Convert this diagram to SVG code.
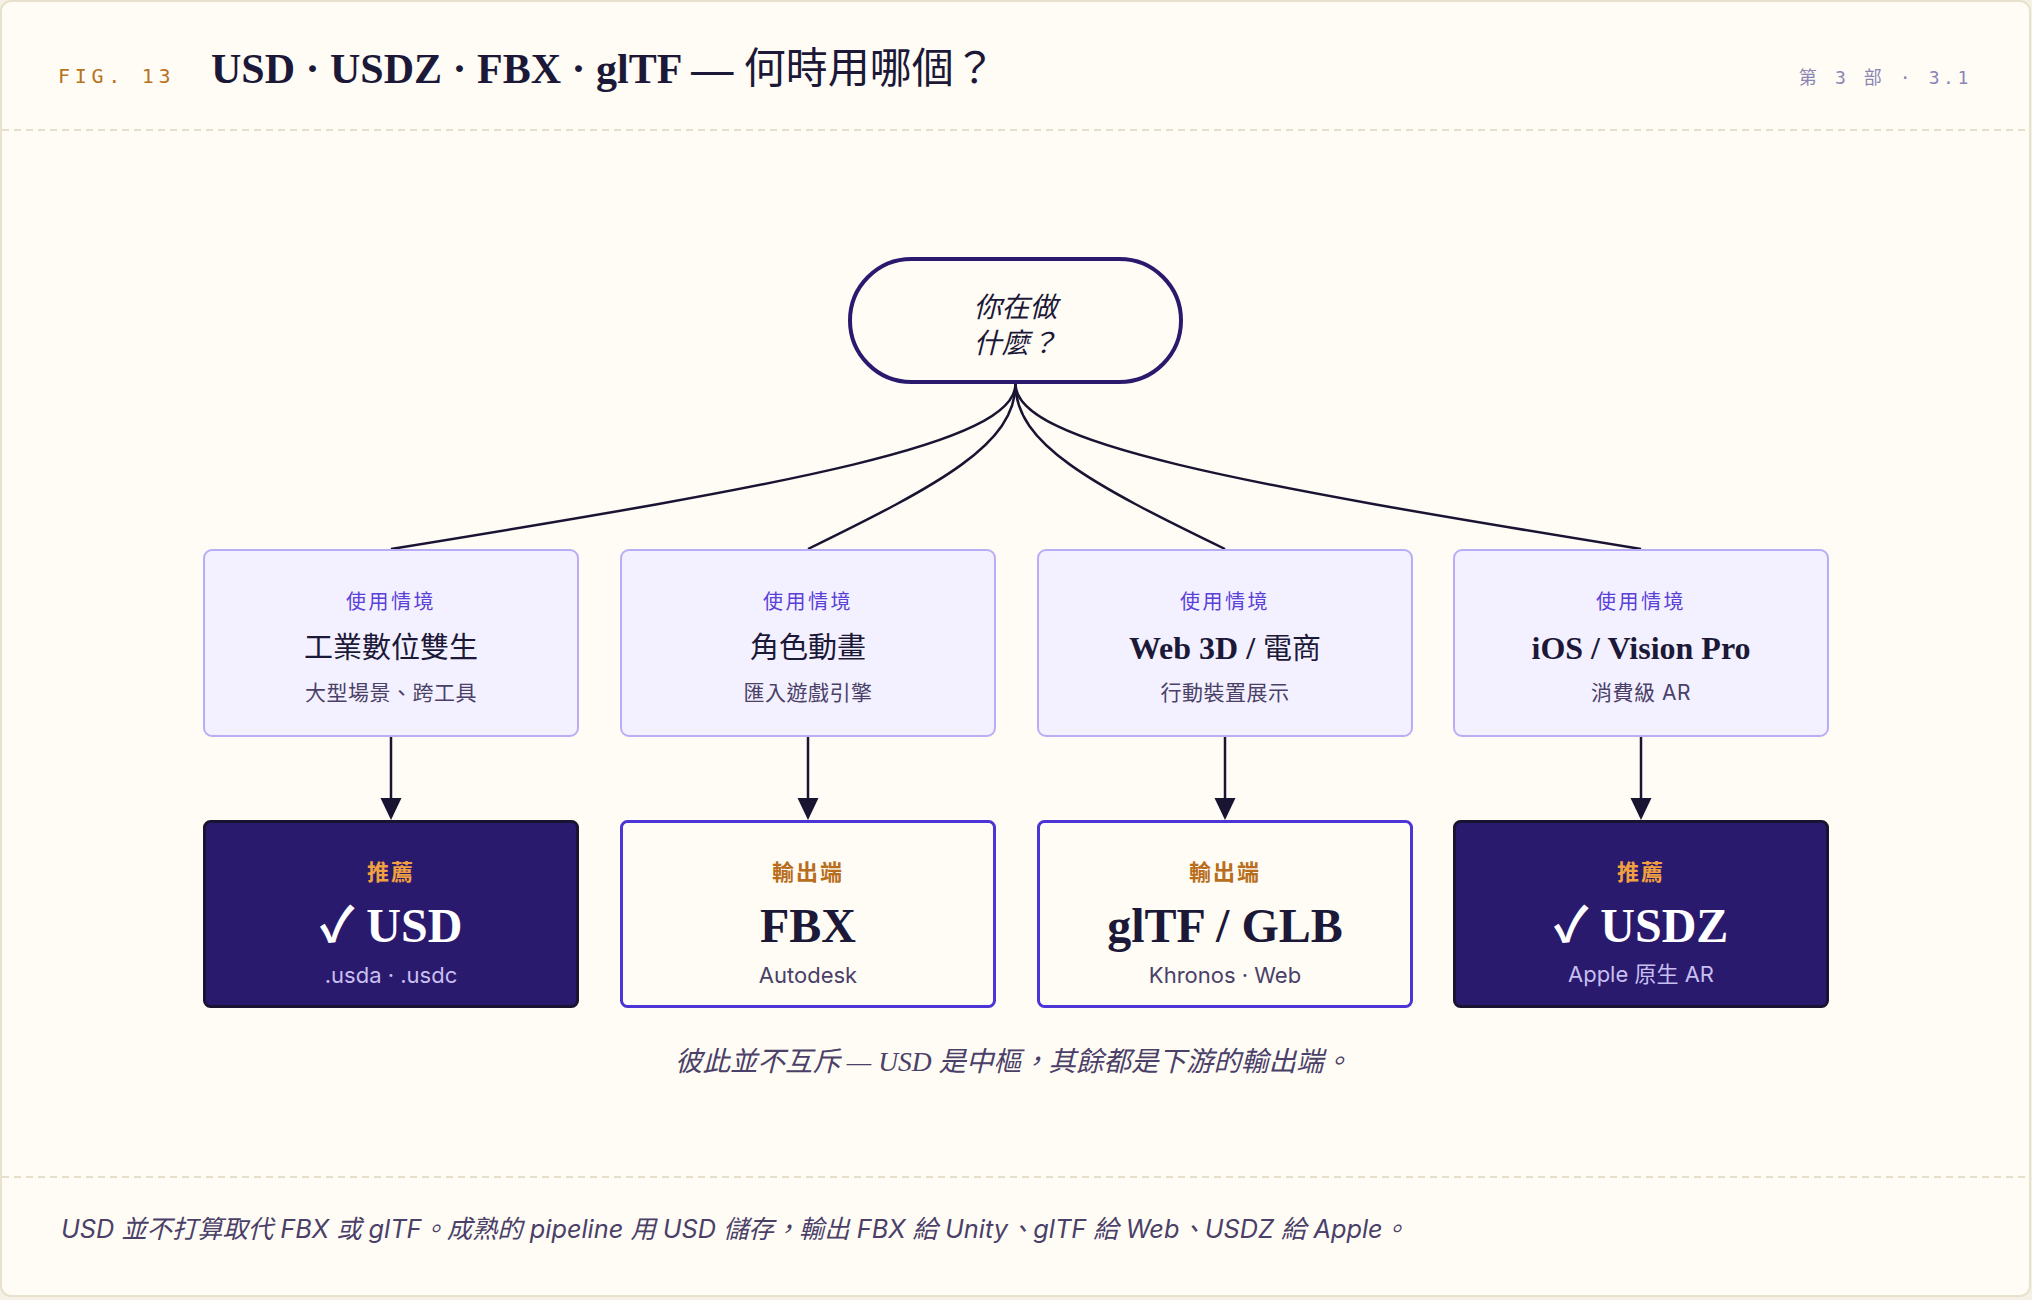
<svg xmlns="http://www.w3.org/2000/svg" width="2032" height="1300" viewBox="0 0 2032 1300">
  <defs>
    <style>
      .serif { font-family: 'Liberation Serif', 'Noto Sans CJK TC', serif; }
      .sans { font-family: Inter, 'Noto Sans CJK TC', sans-serif; }
      .mono { font-family: 'DejaVu Sans Mono', 'Liberation Mono', 'Noto Sans CJK TC', monospace; }
      .sep { stroke: #e6dfca; stroke-width: 2; stroke-dasharray: 7 5; fill: none; }
      .ctx rect { fill: #f3f1ff; stroke: #b9aef5; stroke-width: 2; }
      .ctx .lbl { font-size: 20px; fill: #5a3fd8; letter-spacing: 2.5px; text-anchor: middle; }
      .ctx .ttl { font-size: 29px; fill: #1c1838; text-anchor: middle; font-weight: 400; }
      .ctx .lat { font-size: 32px; font-weight: 700; font-family: 'Liberation Serif', serif; }
      .ctx .sub { font-size: 21px; fill: #4a4068; text-anchor: middle; letter-spacing: 0.5px; }
      .out rect { stroke-width: 3; }
      .rec rect { fill: #2a1a6e; stroke: #1a1433; }
      .exp rect { fill: #fffcf5; stroke: #4b35d6; }
      .out .lbl { font-size: 22px; font-weight: 700; letter-spacing: 2px; text-anchor: middle; }
      .rec .lbl { fill: #f0a040; }
      .exp .lbl { fill: #b86e1c; }
      .out .main { font-size: 48px; font-weight: 700; text-anchor: middle; }
      .rec .main { fill: #ffffff; }
      .exp .main { fill: #1c1838; }
      .out .sub { font-size: 22px; text-anchor: middle; }
      .rec .sub { fill: #c8bff0; }
      .exp .sub { fill: #4a4068; }
      .edge { fill: none; stroke: #1a1433; stroke-width: 2.5; }
    </style>
    <marker id="arr" viewBox="0 0 22 22" refX="0" refY="11" markerWidth="22" markerHeight="22" markerUnits="userSpaceOnUse" orient="auto">
      <path d="M0,0.5 L22,11 L0,21.5 z" fill="#1a1433"/>
    </marker>
  </defs>

  <rect x="0" y="0" width="2032" height="1300" fill="#f5f1e6"/>
  <rect x="1" y="1" width="2029" height="1295" rx="10" fill="#fffcf5" stroke="#e8e1cd" stroke-width="2"/>

  <g id="header">
    <text class="mono" x="58" y="83" font-size="20" fill="#b8741f" letter-spacing="4.7">FIG. 13</text>
    <text class="serif" x="211" y="83" font-size="42" fill="#1c1838"><tspan font-weight="700">USD · USDZ · FBX · glTF — </tspan><tspan font-weight="400">何時用哪個？</tspan></text>
    <text class="mono" x="1972" y="84" font-size="18" fill="#8c84b4" letter-spacing="3.6" text-anchor="end">第 3 部 · 3.1</text>
    <line class="sep" x1="2" y1="130" x2="2030" y2="130"/>
  </g>

  <g id="connectors">
    <path class="edge" d="M1015.5,384 C1015.5,444 790.7,484 391,549"/>
    <path class="edge" d="M1015.5,384 C1015.5,444 940.8,484 808,549"/>
    <path class="edge" d="M1015.5,384 C1015.5,444 1091,484 1225,549"/>
    <path class="edge" d="M1015.5,384 C1015.5,444 1240.7,484 1641,549"/>
    <path class="edge" d="M391,737 V798" marker-end="url(#arr)"/>
    <path class="edge" d="M808,737 V798" marker-end="url(#arr)"/>
    <path class="edge" d="M1225,737 V798" marker-end="url(#arr)"/>
    <path class="edge" d="M1641,737 V798" marker-end="url(#arr)"/>
  </g>

  <g id="start">
    <rect x="850" y="259" width="331" height="123" rx="61.5" fill="#fffcf5" stroke="#2a1a6e" stroke-width="4"/>
    <text class="sans" x="1015.5" y="317" font-size="28" font-style="italic" fill="#1c1838" text-anchor="middle">你在做</text>
    <text class="sans" x="1015.5" y="353" font-size="28" font-style="italic" fill="#1c1838" text-anchor="middle">什麼？</text>
  </g>

  <g id="ctx-twin" class="ctx">
    <rect x="204" y="550" width="374" height="186" rx="8"/>
    <text class="sans lbl" x="391" y="609">使用情境</text>
    <text class="serif ttl" x="391" y="658">工業數位雙生</text>
    <text class="sans sub" x="391" y="700">大型場景、跨工具</text>
  </g>
  <g id="ctx-anim" class="ctx">
    <rect x="621" y="550" width="374" height="186" rx="8"/>
    <text class="sans lbl" x="808" y="609">使用情境</text>
    <text class="serif ttl" x="808" y="658">角色動畫</text>
    <text class="sans sub" x="808" y="700">匯入遊戲引擎</text>
  </g>
  <g id="ctx-web" class="ctx">
    <rect x="1038" y="550" width="374" height="186" rx="8"/>
    <text class="sans lbl" x="1225" y="609">使用情境</text>
    <text class="serif ttl" x="1225" y="659"><tspan class="lat">Web 3D / </tspan>電商</text>
    <text class="sans sub" x="1225" y="700">行動裝置展示</text>
  </g>
  <g id="ctx-ios" class="ctx">
    <rect x="1454" y="550" width="374" height="186" rx="8"/>
    <text class="sans lbl" x="1641" y="609">使用情境</text>
    <text class="serif ttl" x="1641" y="659"><tspan class="lat">iOS / Vision Pro</tspan></text>
    <text class="sans sub" x="1641" y="700">消費級 AR</text>
  </g>

  <g id="out-usd" class="out rec">
    <rect x="204.5" y="821.5" width="373" height="185" rx="6"/>
    <text class="sans lbl" x="391" y="880">推薦</text>
    <text class="serif main" x="391" y="942">✓ USD</text>
    <text class="sans sub" x="391" y="983">.usda · .usdc</text>
  </g>
  <g id="out-fbx" class="out exp">
    <rect x="621.5" y="821.5" width="373" height="185" rx="6"/>
    <text class="sans lbl" x="808" y="880">輸出端</text>
    <text class="serif main" x="808" y="942">FBX</text>
    <text class="sans sub" x="808" y="983">Autodesk</text>
  </g>
  <g id="out-gltf" class="out exp">
    <rect x="1038.5" y="821.5" width="373" height="185" rx="6"/>
    <text class="sans lbl" x="1225" y="880">輸出端</text>
    <text class="serif main" x="1225" y="942">glTF / GLB</text>
    <text class="sans sub" x="1225" y="983">Khronos · Web</text>
  </g>
  <g id="out-usdz" class="out rec">
    <rect x="1454.5" y="821.5" width="373" height="185" rx="6"/>
    <text class="sans lbl" x="1641" y="880">推薦</text>
    <text class="serif main" x="1641" y="942">✓ USDZ</text>
    <text class="sans sub" x="1641" y="982">Apple 原生 AR</text>
  </g>

  <g id="caption">
    <text class="serif" x="1013" y="1071" font-size="27.5" font-style="italic" fill="#4a4068" text-anchor="middle">彼此並不互斥 — USD 是中樞，其餘都是下游的輸出端。</text>
  </g>

  <g id="footer">
    <line class="sep" x1="2" y1="1177" x2="2030" y2="1177"/>
    <text class="sans" x="61" y="1238" font-size="25.3" font-style="italic" fill="#4a4068">USD 並不打算取代 FBX 或 glTF。成熟的 pipeline 用 USD 儲存，輸出 FBX 給 Unity、glTF 給 Web、USDZ 給 Apple。</text>
  </g>
</svg>
